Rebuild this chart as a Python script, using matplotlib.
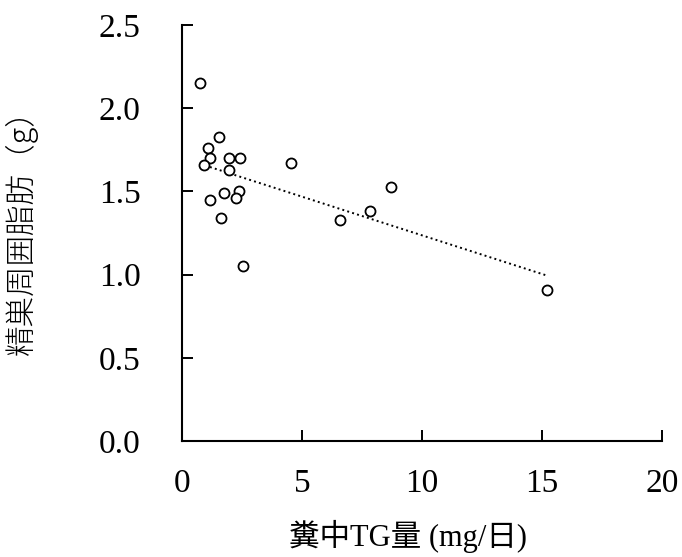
import numpy as np
import matplotlib.pyplot as plt

# 糞中TG量 (mg/日) vs 精巣周囲脂肪 (g)
tg_feces = [0.75, 1.54, 1.06, 1.17, 0.93, 1.94, 2.43, 1.94, 4.53, 1.74,
            2.35, 2.24, 1.15, 1.63, 2.54, 8.70, 7.83, 6.58, 15.2]
fat_g = [2.15, 1.83, 1.76, 1.70, 1.66, 1.70, 1.70, 1.63, 1.67, 1.49,
         1.50, 1.46, 1.45, 1.34, 1.05, 1.53, 1.38, 1.33, 0.91]

x_ticks = [0, 5, 10, 15, 20]
y_ticks = [0.0, 0.5, 1.0, 1.5, 2.0, 2.5]

serif = ['Liberation Serif', 'Noto Sans CJK JP']

fig = plt.figure(figsize=(6.82, 5.57), dpi=100)
ax = fig.add_axes([0.267, 0.208, 0.704, 0.747])

ax.scatter(tg_feces, fat_g, s=52, facecolors='white', edgecolors='black',
           linewidths=1.3, zorder=3)

# 回帰直線
slope, icpt = np.polyfit(tg_feces, fat_g, 1)
xs = np.array([min(tg_feces), max(tg_feces)])
ax.plot(xs, slope * xs + icpt, color='black', linestyle=':', linewidth=1.4, zorder=2)

ax.set_xlim(0, 20)
ax.set_ylim(0, 2.5)
ax.set_xticks(x_ticks)
ax.set_xticklabels([str(v) for v in x_ticks], family=serif, fontsize=24)
ax.set_yticks(y_ticks)
ax.set_yticklabels(['%.1f' % v for v in y_ticks], family=serif, fontsize=24)

ax.tick_params(axis='both', direction='in', length=8, width=1.4, color='black')
ax.tick_params(axis='x', pad=20)
ax.tick_params(axis='y', pad=30)

for s in ['top', 'right']:
    ax.spines[s].set_visible(False)
for s in ['left', 'bottom']:
    ax.spines[s].set_linewidth(1.5)

ax.set_xlabel('糞中TG量 (mg/日)', family=serif, fontsize=22)
ax.xaxis.set_label_coords(0.47, -0.19)
ax.set_ylabel('精巣周囲脂肪（g）', family=['Noto Sans CJK JP', 'Liberation Serif'],
              fontsize=22, fontweight='light')
ax.yaxis.set_label_coords(-0.3, 0.52)

fig.savefig('out.png', dpi=100)
